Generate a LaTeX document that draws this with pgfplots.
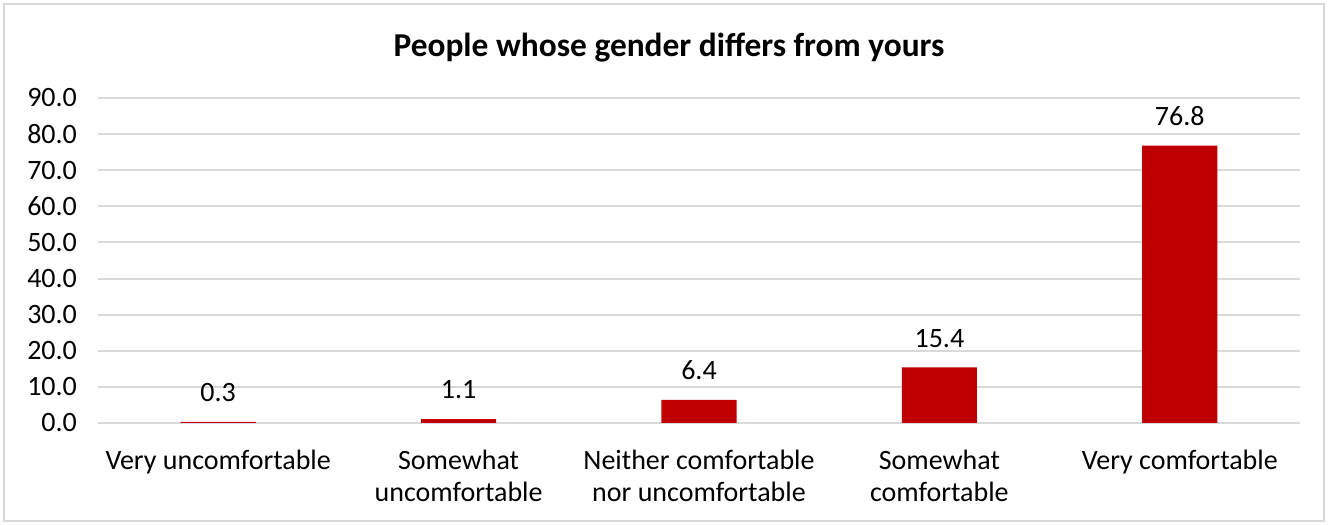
\documentclass[border=0pt]{standalone}
\usepackage{pgfplots}
\pgfplotsset{compat=1.18}
\usepackage{fontspec}
\setmainfont{Carlito}
\usetikzlibrary{calc}
\definecolor{barred}{HTML}{C00000}
\definecolor{gridgray}{HTML}{D9D9D9}
\begin{document}
\begin{tikzpicture}
\begin{axis}[
    scale only axis,
    width=601pt, height=162.5pt,
    xmin=-0.5, xmax=4.5,
    ymin=0, ymax=90,
    ytick={0,10,...,90},
    yticklabel={\pgfmathprintnumber[fixed,fixed zerofill,precision=1]{\tick}},
    /pgf/number format/assume math mode=true,
    xtick=data,
    xticklabels={Very uncomfortable,Somewhat\\uncomfortable,Neither comfortable\\nor uncomfortable,Somewhat\\comfortable,Very comfortable},
    x tick label style={align=center, font=\fontsize{14}{16}\selectfont, yshift=-10pt},
    y tick label style={font=\fontsize{14}{16}\selectfont, xshift=-7pt},
    axis x line*=bottom,
    axis y line*=left,
    y axis line style={draw=none},
    x axis line style={gridgray, line width=1pt},
    major tick length=0pt,
    ymajorgrids,
    grid style={gridgray, line width=1pt},
    ybar, bar width=0.3125,
    nodes near coords,
    nodes near coords style={font=\fontsize{14}{16}\selectfont, black, yshift=6.5pt},
    point meta=explicit symbolic,
    clip=false,
]
\addplot[fill=barred, draw=none] coordinates {
  (0,0.3) [0.3]
  (1,1.1) [1.1]
  (2,6.4) [6.4]
  (3,15.4) [15.4]
  (4,76.8) [76.8]
};
\coordinate (bl) at (rel axis cs:0,0);
\coordinate (tr) at (rel axis cs:1,1);
\end{axis}
\draw[gridgray, line width=1pt] ($(bl)+(-47pt,-49pt)$) rectangle ($(tr)+(12pt,47pt)$);
\coordinate (tc) at ($(bl)!0.5!(tr) + (-15pt,0)$);
\coordinate (tt) at ($(tr)+(0,25pt)$);
\node[font=\bfseries\fontsize{16.7}{19}\selectfont] at (tc |- tt) {People whose gender differs from yours};
\pgfresetboundingbox
\path ($(bl)+(-49pt,-51pt)$) rectangle ($(tr)+(14pt,49pt)$);
\end{tikzpicture}
\end{document}
